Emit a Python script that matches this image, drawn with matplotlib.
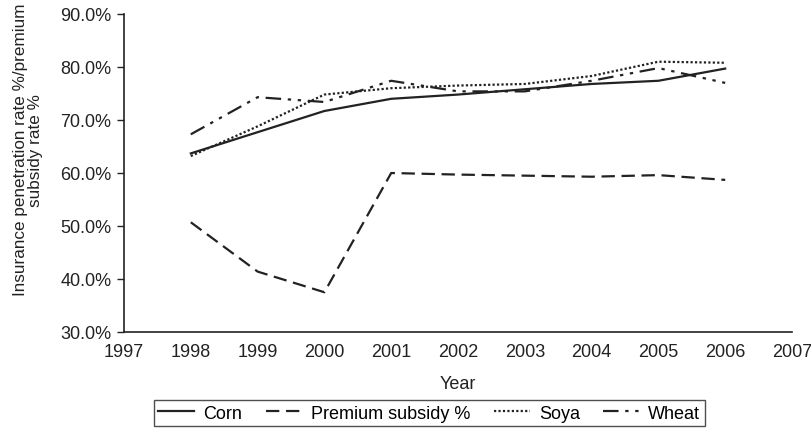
import matplotlib.pyplot as plt
from matplotlib.ticker import FuncFormatter

plt.rcParams['font.family'] = ['Liberation Sans', 'DejaVu Sans']

years = [1998, 1999, 2000, 2001, 2002, 2003, 2004, 2005, 2006]
corn = [63.7, 67.7, 71.7, 74.0, 74.8, 75.8, 76.8, 77.4, 79.7]
premium = [50.7, 41.4, 37.5, 60.0, 59.7, 59.5, 59.3, 59.6, 58.7]
soya = [63.2, 68.8, 74.8, 76.0, 76.5, 76.8, 78.3, 81.0, 80.8]
wheat = [67.3, 74.3, 73.4, 77.4, 75.4, 75.4, 77.4, 79.8, 77.0]

fs = 13
fig = plt.figure(figsize=(8.11, 4.31), dpi=100)
ax = fig.add_axes([124 / 811, 1 - 333 / 431, (792 - 124) / 811, (333 - 15) / 431])

ax.plot(years, corn, color='#222222', lw=1.6, label='Corn')
ax.plot(years, premium, color='#222222', lw=1.6, dashes=(6, 3), label='Premium subsidy %')
ax.plot(years, soya, color='#222222', lw=1.6, dashes=(1, 1), label='Soya')
ax.plot(years, wheat, color='#222222', lw=1.6, dashes=(7, 3, 1.5, 3, 1.5, 3), label='Wheat')

ax.set_xlim(1997, 2007)
ax.set_ylim(30, 90)
ax.set_xticks(range(1997, 2008))
ax.set_yticks(range(30, 91, 10))
ax.yaxis.set_major_formatter(FuncFormatter(lambda v, p: f'{v:.1f}%'))
ax.tick_params(axis='x', length=0, pad=8, labelsize=fs, colors='#222222')
ax.tick_params(axis='y', length=5, width=1, direction='out', pad=4, labelsize=fs, colors='#222222')

for s in ['top', 'right']:
    ax.spines[s].set_visible(False)
for s in ['left', 'bottom']:
    ax.spines[s].set_color('#222222')
    ax.spines[s].set_linewidth(1.2)

ax.set_xlabel('Year', fontsize=fs, color='#222222', labelpad=11)
ax.set_ylabel('Insurance penetration rate %/premium\nsubsidy rate %', fontsize=12.3,
              color='#222222', linespacing=1.0)
ax.yaxis.set_label_coords(-0.121, 0.575)

leg = ax.legend(loc='center', bbox_to_anchor=(0.457, -0.255), ncol=4, fontsize=fs,
                frameon=True, fancybox=False, edgecolor='#222222', handlelength=2.0,
                columnspacing=1.3, handletextpad=0.5, borderpad=0.25)
leg.get_frame().set_linewidth(1.0)

fig.savefig('out.png', dpi=100)
